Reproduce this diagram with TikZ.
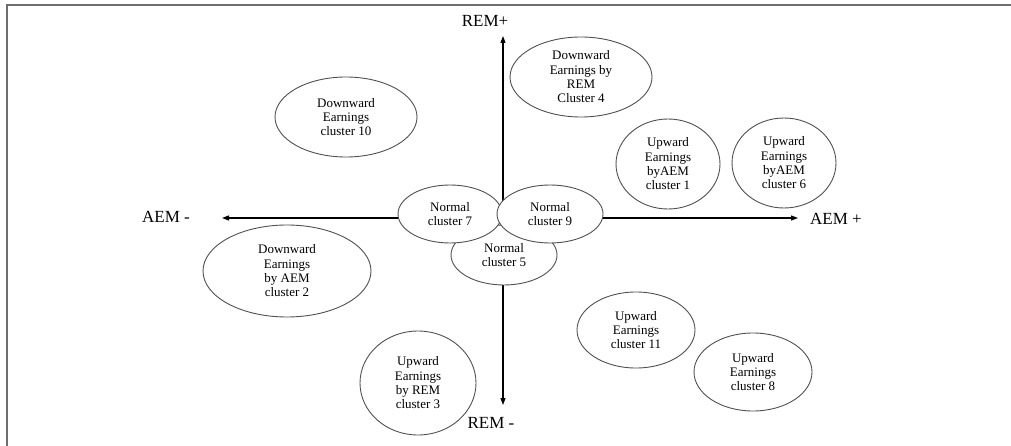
\documentclass[tikz,border=0pt]{standalone}
\usepackage{fontspec}
\setmainfont{Liberation Serif}
\usetikzlibrary{arrows.meta,shapes.geometric,positioning}
\definecolor{edgegray}{RGB}{80,80,80}
\definecolor{framegray}{RGB}{110,110,110}

\begin{document}
\begin{tikzpicture}[
      x=1pt, y=-1pt,
      >={Triangle[length=7pt,width=5pt]},
      clus/.style={draw=edgegray, ellipse, fill=white, inner sep=0pt,
                   align=center, line width=0.9pt,
                   font=\fontsize{13}{14.3}\selectfont},
      axlbl/.style={font=\fontsize{17}{20}\selectfont, inner sep=0pt},
      axisline/.style={->, line width=1.1pt}
    ]
    \useasboundingbox (0,0) rectangle (1011,446);
    \draw[framegray, line width=2pt] (1011,5) -- (7,5) -- (7,446);

    % the two axes
    \coordinate (o)    at (503,218);
    \coordinate (aemL) at (222,218);
    \coordinate (aemR) at (798,218);
    \coordinate (remT) at (503,36);
    \coordinate (remB) at (503,405);
    \draw[axisline] (o) -- (aemL);
    \draw[axisline] (o) -- (aemR);
    \draw[axisline] (o) -- (remT);
    \draw[axisline] (o) -- (remB);

    \node[axlbl] (aemminus) at (166,217) {AEM -};
    \node[axlbl] (aemplus)  at (836,219) {AEM +};
    \node[axlbl] (remplus)  at (485,21)  {REM+};
    \node[axlbl] (remminus) at (491,423) {REM -};

    % normal clusters round the origin
    \node[clus, minimum width=106pt, minimum height=60pt] (c5) at (504,255) {Normal\\cluster 5};
    \node[clus, minimum width=104pt, minimum height=58pt] (c7) at (450,214) {Normal\\cluster 7};
    \node[clus, minimum width=106pt, minimum height=58pt] (c9) at (550,214) {Normal\\cluster 9};

    % downward earnings
    \node[clus, minimum width=142pt, minimum height=80pt] (c4)  at (581,77)  {Downward\\Earnings by\\REM\\Cluster 4};
    \node[clus, minimum width=142pt, minimum height=80pt] (c10) at (346,117) {Downward\\Earnings\\cluster 10};
    \node[clus, minimum width=168pt, minimum height=92pt] (c2)  at (287,271) {Downward\\Earnings\\by AEM\\cluster 2};

    % upward earnings
    \node[clus, minimum width=104pt, minimum height=90pt]  (c1)  at (668,164) {Upward\\Earnings\\byAEM\\cluster 1};
    \node[clus, minimum width=104pt, minimum height=90pt]  (c6)  at (784,163) {Upward\\Earnings\\byAEM\\cluster 6};
    \node[clus, minimum width=116pt, minimum height=104pt] (c3)  at (418,383) {Upward\\Earnings\\by REM\\cluster 3};
    \node[clus, minimum width=118pt, minimum height=76pt]  (c11) at (636,330) {Upward\\Earnings\\cluster 11};
    \node[clus, minimum width=118pt, minimum height=78pt]  (c8)  at (753,372) {Upward\\Earnings\\cluster 8};
  \end{tikzpicture}
\end{document}
